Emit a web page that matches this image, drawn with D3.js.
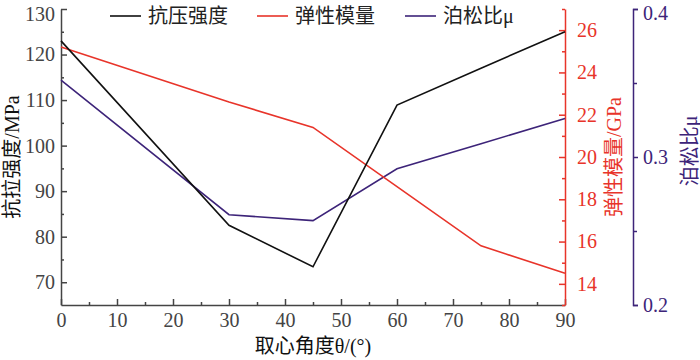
<!DOCTYPE html>
<html>
<head>
<meta charset="utf-8">
<script src="https://cdn.jsdelivr.net/npm/d3@7"></script>
<style>
  body { margin: 0; background: #fff; }
  svg text { font-family: "Liberation Serif", "Noto Sans CJK SC", serif; }
</style>
</head>
<body>
<svg id="chart" width="700" height="360"></svg>
<script>
// data
var angles = [0, 30, 45, 60, 75, 90]
var strength = [123, 82.5, 73.4, 108.9, 117, 125]      // 抗拉强度 MPa
var modulus = [25.2, 22.6, 21.4, 18.6, 15.8, 14.5]      // 弹性模量 GPa
var poisson = [0.352, 0.261, 0.257, 0.292, 0.309, 0.326] // 泊松比μ
var xTicks = [0, 10, 20, 30, 40, 50, 60, 70, 80, 90]
var leftTicks = [70, 80, 90, 100, 110, 120, 130]
var redTicks = [14, 16, 18, 20, 22, 24, 26]
var purpleTicks = [0.2, 0.3, 0.4]
var legendNames = ['抗压强度', '弹性模量', '泊松比μ']

var black = '#111', red = '#e8342a', purple = '#3d2479', grey = '#444'

var svg = d3.select('#chart')
var mLeft = 61, mRight = 565, mTop = 9, mBottom = 305

var x = d3.scaleLinear().domain([0, 90]).range([mLeft, mRight])
var y1 = d3.scaleLinear().domain([65, 130]).range([mBottom, mTop])
var y2 = d3.scaleLinear().domain([13, 27]).range([mBottom, mTop])
var y3 = d3.scaleLinear().domain([0.2, 0.4]).range([mBottom, mTop])

function styleAxis(g, color) {
  g.selectAll('path, line').attr('stroke', color).attr('stroke-width', 1.5)
  g.selectAll('text').attr('fill', color).style('font-size', '20px')
}

// bottom axis
var gx = svg.append('g').attr('transform', 'translate(0,' + mBottom + ')')
  .call(d3.axisBottom(x).tickValues(xTicks).tickSizeInner(-6).tickSizeOuter(0).tickPadding(8))
styleAxis(gx, grey)
var gxm = svg.append('g').attr('transform', 'translate(0,' + mBottom + ')')
  .call(d3.axisBottom(x).tickValues(d3.range(5, 90, 10)).tickSize(-3).tickFormat(''))
styleAxis(gxm, grey)
gxm.select('.domain').remove()

// left axis
var gl = svg.append('g').attr('transform', 'translate(' + mLeft + ',0)')
  .call(d3.axisLeft(y1).tickValues(leftTicks).tickSizeInner(-6).tickSizeOuter(0).tickPadding(6))
styleAxis(gl, grey)
// top label sits a little lower so it is not clipped
gl.selectAll('.tick text').filter(function(d) { return d === 130 }).attr('dy', '0.55em')
var glm = svg.append('g').attr('transform', 'translate(' + mLeft + ',0)')
  .call(d3.axisLeft(y1).tickValues(d3.range(75, 130, 10)).tickSize(-3).tickFormat(''))
styleAxis(glm, grey)
glm.select('.domain').remove()

// red axis
var gr = svg.append('g').attr('transform', 'translate(' + mRight + ',0)')
  .call(d3.axisRight(y2).tickValues(redTicks).tickSizeInner(-6).tickSizeOuter(0).tickPadding(12))
styleAxis(gr, red)
var grm = svg.append('g').attr('transform', 'translate(' + mRight + ',0)')
  .call(d3.axisRight(y2).tickValues(d3.range(13, 28, 2)).tickSize(-3).tickFormat(''))
styleAxis(grm, red)
grm.select('.domain').remove()

// purple axis
var px = 633
var gp = svg.append('g').attr('transform', 'translate(' + px + ',0)')
  .call(d3.axisRight(y3).tickValues(purpleTicks).tickSizeInner(5).tickSizeOuter(5).tickPadding(5).tickFormat(d3.format('.1f')))
styleAxis(gp, purple)
gp.selectAll('.tick text').filter(function(d) { return d === 0.4 }).attr('dy', '0.5em')
var gpm = svg.append('g').attr('transform', 'translate(' + px + ',0)')
  .call(d3.axisRight(y3).tickValues([0.25, 0.35]).tickSize(4).tickFormat(''))
styleAxis(gpm, purple)
gpm.select('.domain').remove()

// lines
function drawLine(vals, scale, color) {
  var line = d3.line()
    .x(function(d, i) { return x(angles[i]) })
    .y(function(d) { return scale(d) })
  svg.append('path').datum(vals)
    .attr('d', line)
    .attr('fill', 'none')
    .attr('stroke', color)
    .attr('stroke-width', 1.6)
    .attr('stroke-linejoin', 'miter')
}
drawLine(poisson, y3, purple)
drawLine(modulus, y2, red)
drawLine(strength, y1, black)

// axis titles
svg.append('text')
  .attr('transform', 'translate(19,' + (mTop + mBottom) / 2 + ') rotate(-90)')
  .attr('text-anchor', 'middle').attr('fill', black).style('font-size', '20px')
  .text('抗拉强度/MPa')
svg.append('text')
  .attr('transform', 'translate(621,' + (mTop + mBottom) / 2 + ') rotate(-90)')
  .attr('text-anchor', 'middle').attr('fill', red).style('font-size', '20px')
  .text('弹性模量/GPa')
svg.append('text')
  .attr('transform', 'translate(697,151) rotate(-90)')
  .attr('text-anchor', 'middle').attr('fill', purple).style('font-size', '20px')
  .text('泊松比μ')
svg.append('text')
  .attr('x', (mLeft + mRight) / 2).attr('y', 353)
  .attr('text-anchor', 'middle').attr('fill', black).style('font-size', '20px')
  .text('取心角度θ/(°)')

// legend
var legendX = [110, 257, 405]
var legendColors = [black, red, purple]
legendNames.forEach(function(name, i) {
  var g = svg.append('g').attr('transform', 'translate(' + legendX[i] + ',16)')
  g.append('line').attr('x1', 0).attr('x2', 31).attr('y1', 0).attr('y2', 0)
    .attr('stroke', legendColors[i]).attr('stroke-width', 1.6)
  g.append('text').attr('x', 38).attr('y', 7).attr('fill', '#222')
    .style('font-size', '20px').text(name)
})
</script>
</body>
</html>
